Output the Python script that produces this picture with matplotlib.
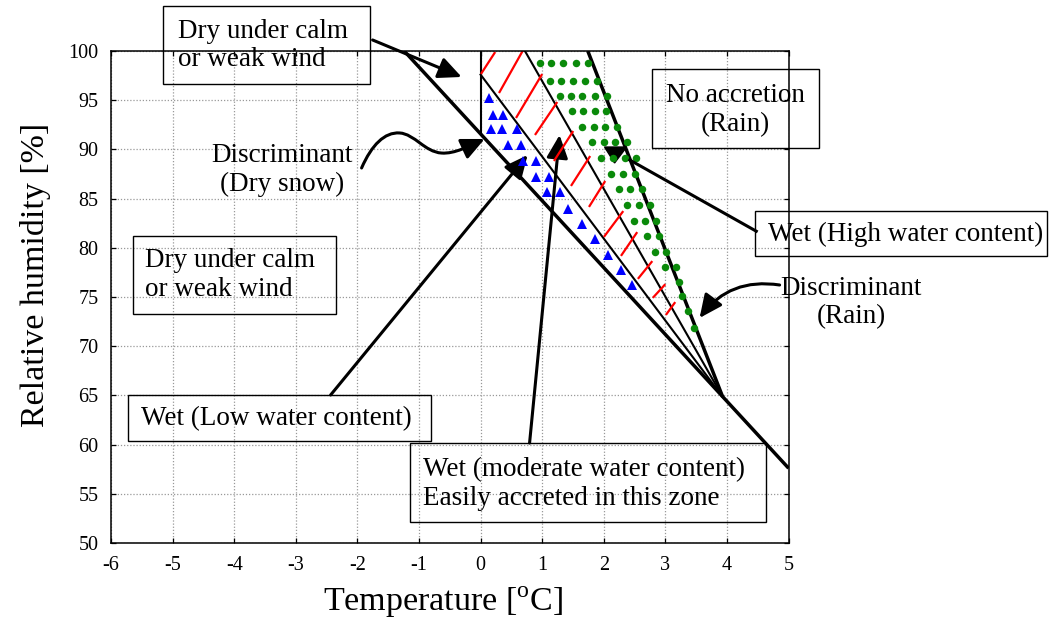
import matplotlib
matplotlib.use("Agg")
import matplotlib.pyplot as plt
from matplotlib.patches import Rectangle, FancyArrowPatch, Polygon
from matplotlib.path import Path

plt.rcParams['font.family'] = ['Liberation Serif', 'DejaVu Serif']
plt.rcParams['mathtext.fontset'] = 'custom'
plt.rcParams['mathtext.rm'] = 'Liberation Serif'
plt.rcParams['axes.unicode_minus'] = False

# ---------------- data ----------------
x_ticks = list(range(-6, 6))
y_ticks = list(range(50, 101, 5))

# boundary lines (temperature [C], relative humidity [%])
dry_disc_t = [-1.24, 5.0]
dry_disc_rh = [100.0, 57.6]
zero_t = [0.0, 0.0]
zero_rh = [100.0, 91.6]
low_t = [0.0, 3.93]
low_rh = [97.6, 64.85]
mid_t = [0.72, 3.93]
mid_rh = [100.0, 64.85]
rain_t = [1.74, 3.93]
rain_rh = [100.0, 64.85]

# blue triangles (low water content zone)
tri_t = [0.13, 0.195, 0.357, 0.162, 0.341, 0.584, 0.438, 0.649, 0.682, 0.893,
         0.893, 1.104, 1.071, 1.282, 1.412, 1.640, 1.851, 2.062, 2.273, 2.451]
tri_rh = [95.22, 93.50, 93.50, 92.07, 92.07, 92.07, 90.45, 90.45, 88.82, 88.82,
          87.20, 87.20, 85.67, 85.67, 83.94, 82.42, 80.89, 79.27, 77.74, 76.22]

# green dots (high water content zone)
dot_t = [0.969, 1.148, 1.336, 1.542, 1.742,
         1.131, 1.310, 1.498, 1.688, 1.894,
         1.294, 1.472, 1.651, 1.851, 2.050,
         1.482, 1.661, 1.851, 2.041,
         1.651, 1.834, 2.024, 2.219,
         1.813, 1.997, 2.187, 2.381,
         1.959, 2.148, 2.338, 2.528,
         2.122, 2.310, 2.500,
         2.240, 2.430, 2.619,
         2.375, 2.565, 2.744,
         2.489, 2.667, 2.852,
         2.700, 2.890,
         2.825, 3.015,
         2.987, 3.177,
         3.219, 3.274, 3.365, 3.458]
dot_rh = [98.75] * 5 + [96.95] * 5 + [95.46] * 5 + [93.93] * 4 + [92.31] * 4 + \
         [90.72] * 4 + [89.10] * 4 + [87.53] * 3 + [85.98] * 3 + [84.32] * 3 + \
         [82.75] * 3 + [81.20] * 2 + [79.60] * 2 + [78.02] * 2 + \
         [76.49, 75.10, 73.61, 71.90]

# red hatch segments (moderate water content zone)
hatch_t0 = [0.016, 0.308, 0.584, 0.893, 1.201, 1.477, 1.769, 2.013, 2.289, 2.565, 2.808, 3.019]
hatch_rh0 = [97.76, 95.83, 93.29, 91.56, 88.92, 86.38, 84.25, 81.20, 79.27, 76.93, 75.00, 73.27]
hatch_t1 = [0.227, 0.682, 0.990, 1.234, 1.494, 1.769, 2.013, 2.305, 2.532, 2.776, 2.987, 3.149]
hatch_rh1 = [99.80, 100.0, 97.56, 94.72, 91.77, 89.23, 86.69, 83.64, 81.50, 78.56, 76.22, 74.39]

# ---------------- figure ----------------
fig = plt.figure(figsize=(10.5, 6.2), dpi=100)
ax = fig.add_axes([111 / 1050, 1 - 543 / 620, 677.6 / 1050, 492 / 620])
ax.set_xlim(-6, 5)
ax.set_ylim(50, 100)
ax.set_xticks(x_ticks)
ax.set_yticks(y_ticks)
ax.tick_params(direction='in', top=True, right=True, length=3.6, width=0.9,
               labelsize=14.5, pad=9)
for s in ax.spines.values():
    s.set_linewidth(1.1)
ax.grid(True, linestyle=(0, (1, 1.5)), color='#999999', linewidth=0.9)
ax.set_axisbelow(True)

# boundary lines
ax.plot(dry_disc_t, dry_disc_rh, color='black', lw=2.5, solid_capstyle='butt')
ax.plot(rain_t, rain_rh, color='black', lw=2.5, solid_capstyle='butt')
ax.plot(zero_t, zero_rh, color='black', lw=1.5)
ax.plot(low_t, low_rh, color='black', lw=1.5)
ax.plot(mid_t, mid_rh, color='black', lw=1.5)

# zone markers
for t0, r0, t1, r1 in zip(hatch_t0, hatch_rh0, hatch_t1, hatch_rh1):
    ax.plot([t0, t1], [r0, r1], color='red', lw=1.6)
ax.plot(tri_t, tri_rh, linestyle='none', marker='^', color='blue', markersize=7.5,
        markeredgewidth=0)
ax.plot(dot_t, dot_rh, linestyle='none', marker='o', color='#0a8a0a', markersize=5.4,
        markeredgewidth=0)

# ---------------- annotations ----------------
FS = 19.5
box_kw = dict(fill=False, edgecolor='black', linewidth=1.0, clip_on=False)
arrow_kw = dict(arrowstyle='-|>,head_length=14,head_width=6.5', mutation_scale=1,
                color='black', lw=2.2, shrinkA=0, shrinkB=0, clip_on=False)

# top box
ax.add_patch(Rectangle((-5.15, 96.65), 3.35, 7.92, **box_kw))
ax.text(-4.92, 100.56, 'Dry under calm\nor weak wind', fontsize=FS, ha='left',
        va='center', clip_on=False)
ax.add_patch(FancyArrowPatch((-1.753, 101.12), (-0.308, 97.36), **arrow_kw))

# discriminant dry snow
ax.text(-3.23, 87.86, 'Discriminant\n(Dry snow)', fontsize=FS, ha='center',
        va='center', multialignment='center')
curve = Path([(-1.932, 88.11), (-1.769, 90.45), (-1.558, 91.77), (-1.315, 91.67),
              (-1.071, 91.57), (-0.909, 89.74), (-0.633, 89.63),
              (-0.422, 89.53), (-0.179, 90.35), (0.065, 91.06)],
             [Path.MOVETO] + [Path.CURVE4] * 9)
ax.add_patch(FancyArrowPatch(path=curve, **arrow_kw))

# second dry box
ax.add_patch(Rectangle((-5.65, 73.27), 3.31, 7.93, **box_kw))
ax.text(-5.455, 77.2, 'Dry under calm\nor weak wind', fontsize=FS, ha='left',
        va='center')

# no accretion
ax.add_patch(Rectangle((2.79, 90.14), 2.70, 8.03, **box_kw))
ax.text(4.14, 94.0, 'No accretion\n(Rain)', fontsize=FS, ha='center', va='center',
        multialignment='center', clip_on=False)

# wet high water content
ax.add_patch(Rectangle((4.46, 79.17), 4.74, 4.57, **box_kw))
ax.text(4.66, 81.4, 'Wet (High water content)', fontsize=FS, ha='left',
        va='center', clip_on=False)
ax.plot([4.497, 2.40], [81.61, 89.0], color='black', lw=2.2, clip_on=False,
        solid_capstyle='butt')
ax.add_patch(Polygon([(2.013, 90.24), (2.370, 90.24), (2.175, 88.62)],
                     closed=True, color='black'))

# discriminant rain
ax.text(6.02, 74.45, 'Discriminant\n(Rain)', fontsize=FS, ha='center', va='center',
        multialignment='center', clip_on=False)
ax.add_patch(FancyArrowPatch((4.854, 76.22), (3.555, 72.87),
                             connectionstyle='arc3,rad=0.3', **arrow_kw))

# wet low water content
ax.add_patch(Rectangle((-5.73, 60.37), 4.92, 4.67, **box_kw))
ax.text(-5.52, 62.6, 'Wet (Low water content)', fontsize=FS, ha='left', va='center')
ax.add_patch(FancyArrowPatch((-2.435, 65.04), (0.763, 89.43), **arrow_kw))

# wet moderate water content
ax.add_patch(Rectangle((-1.153, 52.13), 5.78, 8.03, **box_kw))
ax.text(-0.94, 56.0, 'Wet (moderate water content)\nEasily accreted in this zone',
        fontsize=FS, ha='left', va='center')
ax.add_patch(FancyArrowPatch((0.795, 60.16), (1.282, 91.46), **arrow_kw))

# axis labels
fig.text(443 / 1050, 1 - 602 / 620, r'Temperature [$^{\rm o}$C]', fontsize=24.5,
         ha='center', va='center')
fig.text(36 / 1050, 1 - 275 / 620, 'Relative humidity [%]', fontsize=24.5,
         ha='center', va='center', rotation=90)

fig.savefig('out.png', dpi=100)
